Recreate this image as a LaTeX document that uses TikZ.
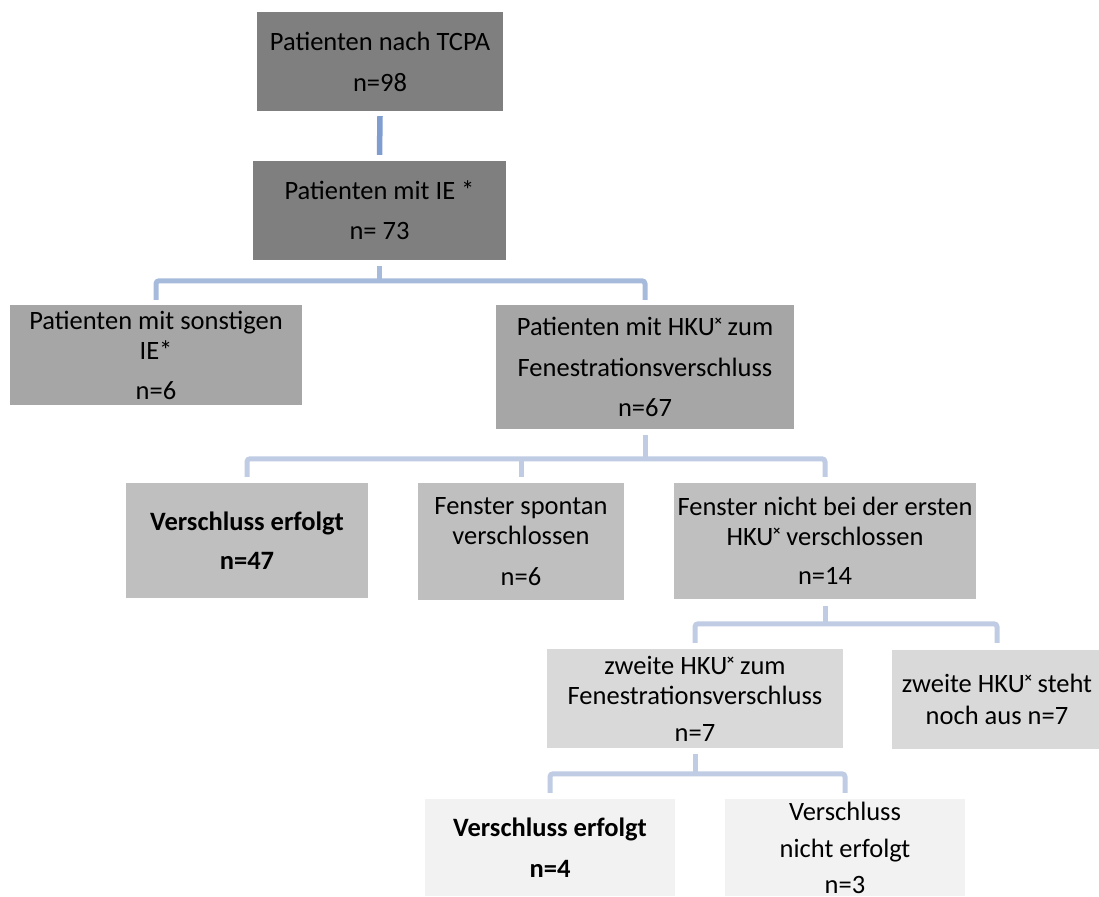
\documentclass[tikz,border=0pt]{standalone}
\usepackage{fontspec}
\setmainfont{Carlito}
\definecolor{gA}{HTML}{7F7F7F}
\definecolor{gB}{HTML}{A6A6A6}
\definecolor{gC}{HTML}{BFBFBF}
\definecolor{gD}{HTML}{D9D9D9}
\definecolor{gE}{HTML}{F2F2F2}
\definecolor{cA}{HTML}{7F9DCF}
\definecolor{cB}{HTML}{A6BADC}
\definecolor{cC}{HTML}{BFCCE4}
\newcommand\hkx{\raisebox{10pt}{\fontsize{14}{14}\selectfont\bfseries ×}}
\begin{document}
\begin{tikzpicture}[x=1pt,y=-1pt,
  box/.style={inner sep=0pt, align=center, font=\fontsize{26.5}{30}\selectfont},
  lvA/.style={box, fill=gA},
  lvB/.style={box, fill=gB},
  lvC/.style={box, fill=gC},
  lvD/.style={box, fill=gD},
  lvE/.style={box, fill=gE},
  connA/.style={draw=cA, line width=5.5pt},
  connB/.style={draw=cB, line width=5pt, rounded corners=3pt},
  connC/.style={draw=cC, line width=5pt, rounded corners=3pt}
]
\useasboundingbox (0,0) rectangle (1099,896);

\node[lvA, minimum width=246pt, minimum height=99pt] (b1) at (380,61.5)
  {Patienten nach TCPA\\[11pt]n=98};
\node[lvA, minimum width=253pt, minimum height=99pt] (b2) at (379.5,210.5)
  {Patienten mit IE *\\[10pt]n= 73};
\node[lvB, minimum width=292pt, minimum height=100pt] (b3) at (156,355)
  {Patienten mit sonstigen\\IE*\\[10pt]n=6};
\node[lvB, minimum width=298pt, minimum height=124pt] (b4) at (645,367)
  {Patienten mit HKU\hkx{} zum\\[11pt]Fenestrationsverschluss\\[10pt]n=67};
\node[lvC, minimum width=242pt, minimum height=115pt] (b5) at (247,540.5)
  {\bfseries Verschluss erfolgt\\[9pt]\bfseries n=47};
\node[lvC, minimum width=206pt, minimum height=117pt] (b6) at (521,541.5)
  {Fenster spontan\\verschlossen\\[11pt]n=6};
\node[lvC, minimum width=302pt, minimum height=116pt] (b7) at (825,541)
  {Fenster nicht bei der ersten\\HKU\hkx{} verschlossen\\[9pt]n=14};
\node[lvD, minimum width=296pt, minimum height=99pt] (b8) at (695,698.5)
  {zweite HKU\hkx{} zum\\Fenestrationsverschluss\\[7pt]n=7};
\node[lvD, minimum width=210pt, minimum height=99pt] (b9) at (997,699.5)
  {zweite HKU\hkx{} steht\\[2pt]noch aus n=7};
\node[lvE, minimum width=250pt, minimum height=97pt] (b10) at (550,847.5)
  {\bfseries Verschluss erfolgt\\[11pt]\bfseries n=4};
\node[lvE, minimum width=240pt, minimum height=97pt] (b11) at (845,847.5)
  {Verschluss\\[7pt]nicht erfolgt\\[6pt]n=3};

% level 1
\draw[connA] ([yshift=-5pt]b1.south) -- ([yshift=6pt]b2.north);

% level 2
\coordinate (bus2) at ([yshift=24pt]b3.north);
\draw[connB] ([yshift=-6pt]b2.south) -- (bus2 -| b2.south);
\draw[connB] ([yshift=5pt]b3.north) -- (bus2) -- (bus2 -| b4.north) -- ([yshift=5pt]b4.north);

% level 3
\coordinate (bus3) at ([yshift=24pt]b5.north);
\draw[connC] ([yshift=-6pt]b4.south) -- (bus3 -| b4.south);
\draw[connC] ([yshift=6pt]b5.north) -- (bus3) -- (bus3 -| b7.north) -- ([yshift=6pt]b7.north);
\draw[connC] ([yshift=6pt]b6.north) -- (bus3 -| b6.north);

% level 4
\coordinate (bus4) at ([yshift=25pt]b8.north);
\draw[connC] ([yshift=-7pt]b7.south) -- (bus4 -| b7.south);
\draw[connC] ([yshift=6pt]b8.north) -- (bus4) -- (bus4 -| b9.north) -- ([yshift=7pt]b9.north);

% level 5
\coordinate (bus5) at ([yshift=25pt]b10.north);
\draw[connC] ([yshift=-6pt]b8.south) -- (bus5 -| b8.south);
\draw[connC] ([yshift=6pt]b10.north) -- (bus5) -- (bus5 -| b11.north) -- ([yshift=6pt]b11.north);
\end{tikzpicture}
\end{document}
